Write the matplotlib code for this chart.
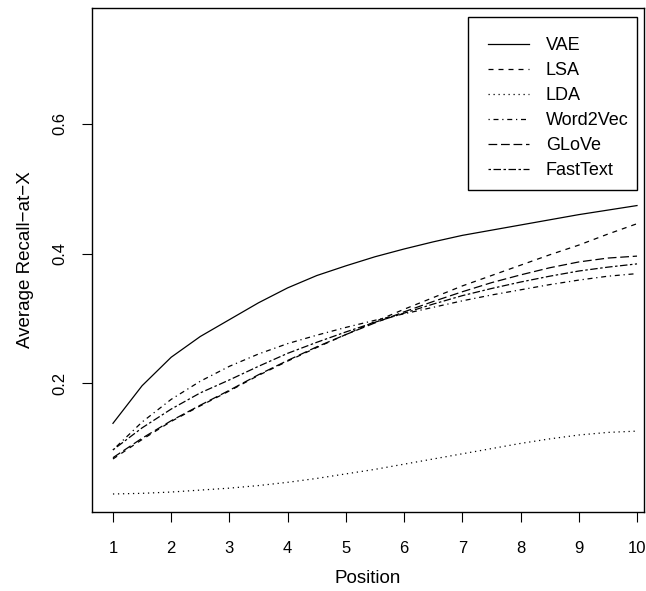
import matplotlib.pyplot as plt
from matplotlib.patches import Rectangle

plt.rcParams["font.family"] = ["Liberation Sans", "DejaVu Sans"]

# positions read at half steps from the reference
position = [1, 1.5, 2, 2.5, 3, 3.5, 4, 4.5, 5, 5.5, 6, 6.5, 7, 7.5, 8, 8.5, 9, 9.5, 10]

vae = [0.138, 0.196, 0.240, 0.272, 0.298, 0.324, 0.347, 0.366, 0.381, 0.395,
       0.407, 0.418, 0.428, 0.436, 0.444, 0.452, 0.460, 0.467, 0.474]
lsa = [0.083, 0.113, 0.141, 0.165, 0.188, 0.212, 0.234, 0.255, 0.275, 0.295,
       0.314, 0.332, 0.350, 0.366, 0.382, 0.398, 0.413, 0.430, 0.446]
lda = [0.029, 0.030, 0.032, 0.035, 0.038, 0.042, 0.047, 0.053, 0.060, 0.067,
       0.075, 0.083, 0.091, 0.099, 0.107, 0.114, 0.120, 0.124, 0.126]
word2vec = [0.097, 0.140, 0.175, 0.203, 0.226, 0.245, 0.261, 0.274, 0.286, 0.297,
            0.307, 0.317, 0.327, 0.336, 0.344, 0.352, 0.359, 0.365, 0.369]
glove = [0.085, 0.115, 0.142, 0.166, 0.189, 0.213, 0.235, 0.256, 0.275, 0.293,
         0.310, 0.326, 0.341, 0.355, 0.367, 0.378, 0.387, 0.393, 0.396]
fasttext = [0.097, 0.131, 0.160, 0.185, 0.205, 0.226, 0.246, 0.263, 0.279, 0.294,
            0.308, 0.322, 0.335, 0.346, 0.356, 0.365, 0.373, 0.379, 0.384]

series = [
    ("VAE", vae, "-"),
    ("LSA", lsa, (0, (4, 4))),
    ("LDA", lda, (0, (1, 3))),
    ("Word2Vec", word2vec, (0, (1, 3, 4, 3))),
    ("GLoVe", glove, (0, (7, 3))),
    ("FastText", fasttext, (0, (2, 2, 6, 2))),
]

x_ticks = [1, 2, 3, 4, 5, 6, 7, 8, 9, 10]
y_ticks = [0.2, 0.4, 0.6]

W, H = 646, 591
fig = plt.figure(figsize=(W / 100, H / 100), dpi=100)
ax = fig.add_axes([92 / W, 79 / H, 552 / W, 504 / H])

for nombre, valores, estilo in series:
    ax.plot(position, valores, color="black", lw=0.9, linestyle=estilo, label=nombre)

ax.set_xlim(0.64, 10.12)
ax.set_ylim(0.0012, 0.7788)
ax.set_xticks(x_ticks)
ax.set_yticks(y_ticks)
ax.set_yticklabels([f"{v:.1f}" for v in y_ticks], rotation=90, va="center")
ax.tick_params(direction="out", length=7, width=0.8, labelsize=12)
ax.tick_params(axis="x", pad=14)
ax.tick_params(axis="y", pad=11)
for lado in ax.spines.values():
    lado.set_linewidth(1.0)

ax.set_xlabel("Position", fontsize=13.5, labelpad=10)
ax.set_ylabel("Average Recall\u2212at\u2212X", fontsize=13.5, labelpad=13)

# legend box like R's legend(): frame drawn separately
fig.legend(*ax.get_legend_handles_labels(), loc="upper left",
           bbox_to_anchor=(468 / W, 1 - 17 / H), borderaxespad=0,
           fontsize=13, frameon=False, handlelength=2.3, handletextpad=0.9,
           labelspacing=0.45, borderpad=1.1)
fig.patches.append(Rectangle((468 / W, 1 - 190 / H), (637 - 468) / W, (190 - 17) / H,
                             transform=fig.transFigure, fill=False,
                             edgecolor="black", lw=1.0))

fig.savefig("out.png", dpi=100)
